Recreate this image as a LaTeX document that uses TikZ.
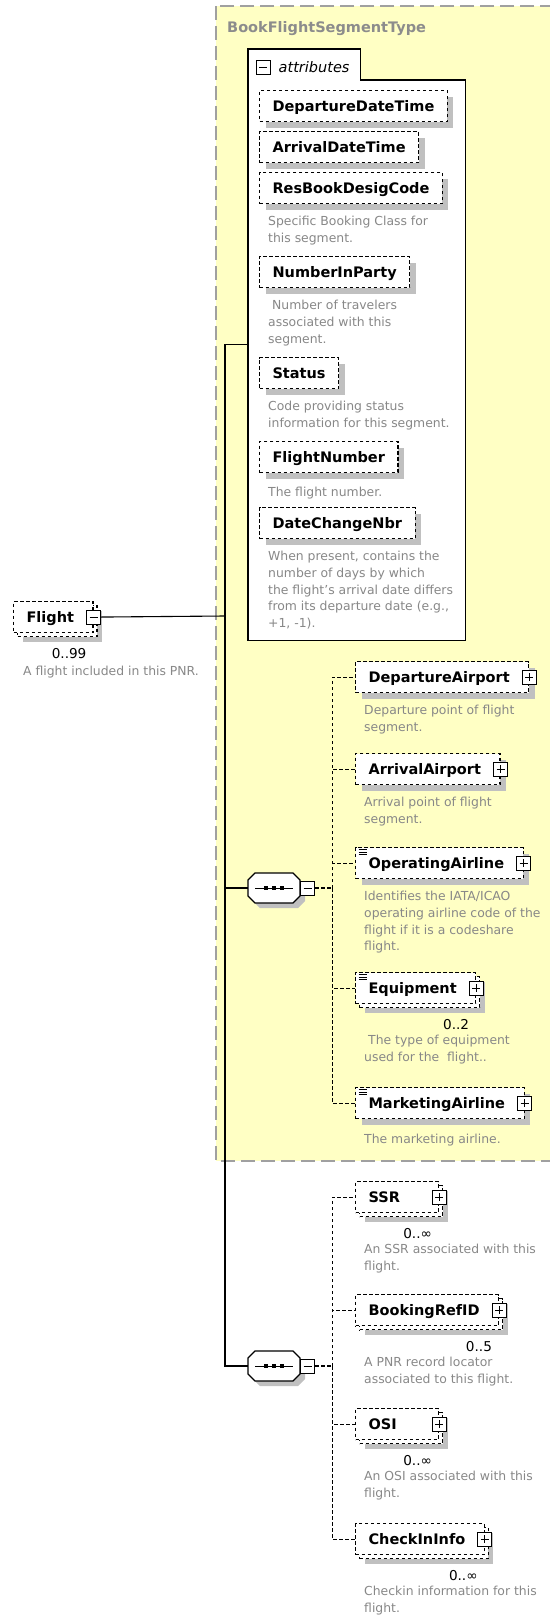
\documentclass[tikz,border=0pt]{standalone}
\usepackage{fontspec}
\setmainfont{DejaVu Sans}
\usepackage{xcolor}
\usepackage{tikz}
\usetikzlibrary{positioning, shadows, calc}

\definecolor{typeyellow}{RGB}{255,255,196}
\definecolor{typeborder}{RGB}{160,160,160}
\definecolor{titlegray}{RGB}{140,140,140}
\definecolor{docgray}{RGB}{136,136,136}
\definecolor{shadowgray}{RGB}{192,192,192}

\newcommand{\namefont}{\fontsize{14.5}{17}\selectfont\bfseries}
\newcommand{\attrfont}{\fontsize{14.5}{17}\selectfont\itshape}
\newcommand{\docfont}{\fontsize{12.4}{16.7}\selectfont}
\newcommand{\multfont}{\fontsize{13.6}{16}\selectfont}

% octagon of a sequence compositor, round its centre
\newcommand{\octagon}[1]{([shift={(-19pt,15pt)}]#1) -- ([shift={(19pt,15pt)}]#1) -- ([shift={(26pt,8pt)}]#1)
  -- ([shift={(26pt,-8pt)}]#1) -- ([shift={(19pt,-15pt)}]#1) -- ([shift={(-19pt,-15pt)}]#1)
  -- ([shift={(-26pt,-8pt)}]#1) -- ([shift={(-26pt,8pt)}]#1) -- cycle}

\tikzset{
  boxdash/.style={dash pattern=on 3.5pt off 2.5pt},
  link/.style={line width=1.1pt},
  dlink/.style={line width=1.1pt, boxdash},
  elembase/.style={draw=black, fill=white, boxdash, line width=1.1pt, anchor=north west,
    minimum height=31pt, inner xsep=13pt, inner ysep=0pt, text height=12.5pt, text depth=1.5pt,
    font=\namefont},
  attrbox/.style={elembase, drop shadow={shadow xshift=6pt, shadow yshift=-6pt, fill=shadowgray, opacity=1}},
  elembox/.style={attrbox, execute at end node={\hspace{6pt}}},
  backcopy/.style={preaction={draw=black, fill=white, boxdash, line width=1.1pt,
    transform canvas={shift={(4pt,-4pt)}}}},
  multibox/.style={elembase, drop shadow={shadow xshift=9pt, shadow yshift=-9pt, fill=shadowgray, opacity=1},
    backcopy, execute at end node={\hspace{6pt}}},
  iconbox/.style={draw=black, solid, fill=white, line width=1pt, minimum size=14pt, inner sep=0pt},
  plusicon/.style={iconbox, path picture={
    \draw[line width=1pt] ([xshift=3pt]path picture bounding box.west) -- ([xshift=-3pt]path picture bounding box.east)
      ([yshift=-3pt]path picture bounding box.north) -- ([yshift=3pt]path picture bounding box.south);}},
  minusicon/.style={iconbox, path picture={
    \draw[line width=1pt] ([xshift=3pt]path picture bounding box.west) -- ([xshift=-3pt]path picture bounding box.east);}},
  doclines/.style={path picture={
    \foreach \d in {2,4.5,7}
      \draw[solid, line width=.7pt] ([xshift=3pt, yshift=-\d pt]path picture bounding box.north west) -- ++(8pt,0pt);}},
  octline/.style={draw=black, fill=white, line width=1.1pt},
  octshadow/.style={fill=shadowgray, transform canvas={shift={(5pt,-5pt)}}},
  seqbox/.style={minimum width=52pt, minimum height=30pt, inner sep=0pt,
    path picture={
      \draw[line width=1pt] ([xshift=7pt]path picture bounding box.west) -- ([xshift=-7pt]path picture bounding box.east);
      \foreach \dx in {-8,0,8}
        \fill ([xshift=\dx pt]path picture bounding box.center) +(-2pt,-2pt) rectangle +(2pt,2pt);}},
  docnote/.style={inner sep=0pt, align=left, font=\docfont, text=docgray, execute at begin node=\strut},
  multnote/.style={inner sep=0pt, font=\multfont, anchor=base east},
  groupline/.style={draw=black, fill=white, line width=1.2pt}
}

\begin{document}
\begin{tikzpicture}[x=1pt, y=-1pt]
\useasboundingbox (0,0) rectangle (549,1621);

% complex type area
\draw[fill=typeyellow, draw=typeborder, line width=1.6pt, dash pattern=on 14pt off 6pt] (216,6) rectangle (600,1161);
\node[anchor=base west, inner sep=0pt, font=\namefont, text=titlegray] (typename) at (227,33) {BookFlightSegmentType};

% attributes group
\node[anchor=north west, minimum width=112pt, minimum height=31pt, inner sep=0pt] (attrtab) at (248,49) {};
\node[anchor=north west, minimum width=217pt, minimum height=560pt, inner sep=0pt] (attrbody) at (248,80) {};
\draw[groupline] (attrtab.south west) |- (attrtab.north east) |- (attrbody.north east) |- (attrbody.south west) -- cycle;
\node[minusicon] (attrmin) at ($(attrtab.west)+(15pt,-2.5pt)$) {};
\node[right=8pt of attrmin, inner sep=0pt, font=\attrfont] (attrlabel) {attributes};

\node[attrbox] (deptime) at (259,90) {DepartureDateTime};
\node[attrbox] (arrtime) at (259,131) {ArrivalDateTime};
\node[attrbox] (rbdcode) at (259,172) {ResBookDesigCode};
\node[docnote, below right=12pt and 9pt of rbdcode.south west] (rbdnote) {Specific Booking Class for\\this segment.};
\node[attrbox] (inparty) at (259,256) {NumberInParty};
\node[docnote, below right=12pt and 9pt of inparty.south west] (inpartynote) {\hspace*{4pt}Number of travelers\\associated with this\\segment.};
\node[attrbox] (status) at (259,357) {Status};
\node[docnote, below right=12pt and 9pt of status.south west] (statusnote) {Code providing status\\information for this segment.};
\node[attrbox] (fltnum) at (259,441) {FlightNumber};
\node[docnote, below right=12pt and 9pt of fltnum.south west] (fltnumnote) {The flight number.};
\node[attrbox] (datechg) at (259,507) {DateChangeNbr};
\node[docnote, below right=12pt and 9pt of datechg.south west] (datechgnote) {When present, contains the\\number of days by which\\the flight's arrival date differs\\from its departure date (e.g.,\\+1, -1).};

% Flight element
\node[multibox] (flight) at (13,601) {Flight};
\node[minusicon] (flightmin) at (flight.east) {};
\node[multnote] (flightmult) at ([xshift=-7pt, yshift=-25pt]flight.south east) {0..99};
\node[docnote, below right=31pt and 10pt of flight.south west] (flightnote) {A flight included in this PNR.};

% sequences
\coordinate (seqapos) at (274,888);
\coordinate (seqbpos) at (274,1366);
\fill[octshadow] \octagon{seqapos};
\draw[octline] \octagon{seqapos};
\fill[octshadow] \octagon{seqbpos};
\draw[octline] \octagon{seqbpos};
\node[seqbox] (seqa) at (seqapos) {};
\node[minusicon, anchor=west] (seqamin) at (seqa.east) {};
\node[seqbox] (seqb) at (seqbpos) {};
\node[minusicon, anchor=west] (seqbmin) at (seqb.east) {};

\coordinate (trunk) at (225,616);
\draw[link] (flightmin.east) -- (trunk);
\draw[link] (trunk) |- ($(attrtab.north west)!.5!(attrbody.south west)$);
\draw[link] (trunk) |- (seqa.west);
\draw[link] (trunk) |- (seqb.west);

% first sequence
\node[elembox] (depair) at (355,661) {DepartureAirport};
\node[plusicon] (depairplus) at (depair.east) {};
\node[docnote, below right=12pt and 9pt of depair.south west] (depairnote) {Departure point of flight\\segment.};
\node[elembox] (arrair) at (355,753) {ArrivalAirport};
\node[plusicon] (arrairplus) at (arrair.east) {};
\node[docnote, below right=12pt and 9pt of arrair.south west] (arrairnote) {Arrival point of flight\\segment.};
\node[elembox, doclines] (opair) at (355,847) {OperatingAirline};
\node[plusicon] (opairplus) at (opair.east) {};
\node[docnote, below right=12pt and 9pt of opair.south west] (opairnote) {Identifies the IATA/ICAO\\operating airline code of the\\flight if it is a codeshare\\flight.};
\node[multibox, doclines] (equip) at (355,972) {Equipment};
\node[plusicon] (equipplus) at (equip.east) {};
\node[multnote] (equipmult) at ([xshift=-7pt, yshift=-25pt]equip.south east) {0..2};
\node[docnote, below right=31pt and 9pt of equip.south west] (equipnote) {\hspace*{4pt}The type of equipment\\used for the\ \ flight..};
\node[elembox, doclines] (mktair) at (355,1087) {MarketingAirline};
\node[plusicon] (mktairplus) at (mktair.east) {};
\node[docnote, below right=12pt and 9pt of mktair.south west] (mktairnote) {The marketing airline.};

\coordinate (busa) at ($(seqamin.east)+(17pt,0pt)$);
\draw[dlink] (seqamin.east) -- (busa);
\foreach \n in {depair, arrair, opair, equip, mktair}
  \draw[dlink] (busa) |- (\n.west);

% second sequence
\node[multibox, text width=57pt] (ssr) at (355,1181) {SSR};
\node[plusicon] (ssrplus) at (ssr.east) {};
\node[multnote] (ssrmult) at ([xshift=-7pt, yshift=-25pt]ssr.south east) {0..∞};
\node[docnote, below right=31pt and 9pt of ssr.south west] (ssrnote) {An SSR associated with this\\flight.};
\node[multibox] (bookref) at (355,1294) {BookingRefID};
\node[plusicon] (bookrefplus) at (bookref.east) {};
\node[multnote] (bookrefmult) at ([xshift=-7pt, yshift=-25pt]bookref.south east) {0..5};
\node[docnote, below right=31pt and 9pt of bookref.south west] (bookrefnote) {A PNR record locator\\associated to this flight.};
\node[multibox, text width=57pt] (osi) at (355,1408) {OSI};
\node[plusicon] (osiplus) at (osi.east) {};
\node[multnote] (osimult) at ([xshift=-7pt, yshift=-25pt]osi.south east) {0..∞};
\node[docnote, below right=31pt and 9pt of osi.south west] (osinote) {An OSI associated with this\\flight.};
\node[multibox] (checkin) at (355,1523) {CheckInInfo};
\node[plusicon] (checkinplus) at (checkin.east) {};
\node[multnote] (checkinmult) at ([xshift=-7pt, yshift=-25pt]checkin.south east) {0..∞};
\node[docnote, below right=31pt and 9pt of checkin.south west] (checkinnote) {Checkin information for this\\flight.};

\coordinate (busb) at ($(seqbmin.east)+(17pt,0pt)$);
\draw[dlink] (seqbmin.east) -- (busb);
\foreach \n in {ssr, bookref, osi, checkin}
  \draw[dlink] (busb) |- (\n.west);

\end{tikzpicture}
\end{document}
